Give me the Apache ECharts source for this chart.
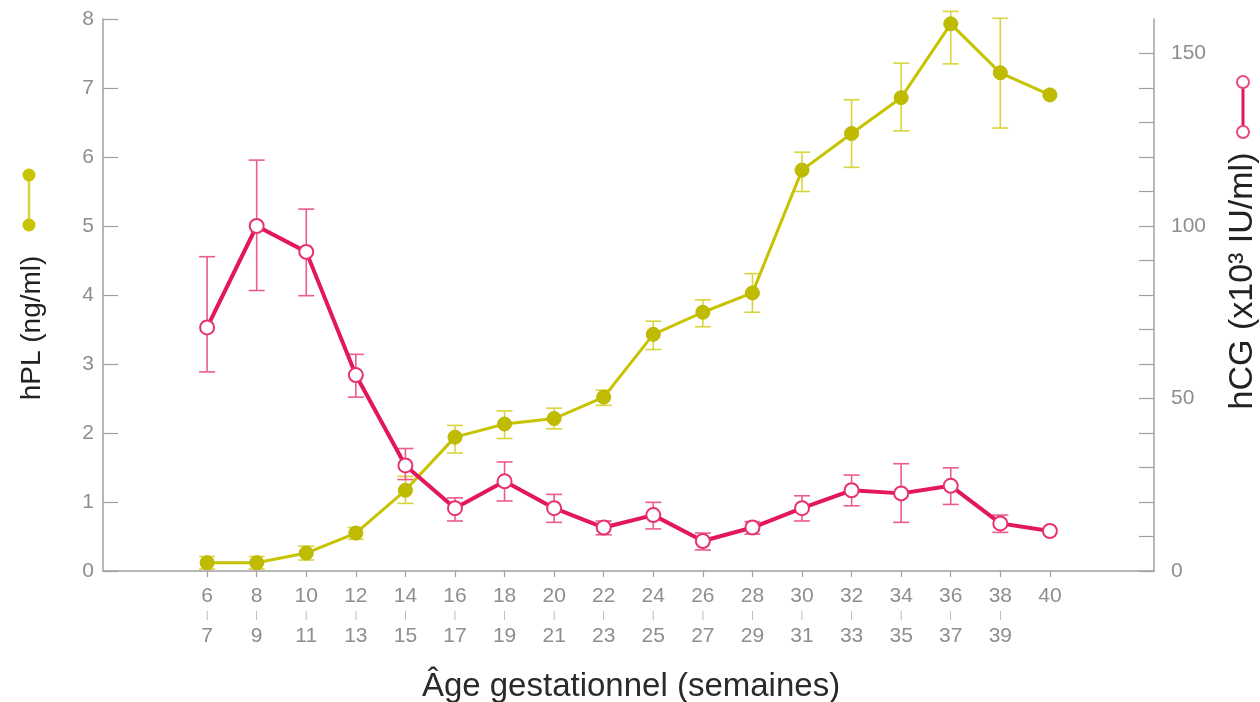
<!DOCTYPE html>
<html>
<head>
<meta charset="utf-8">
<script src="https://cdn.jsdelivr.net/npm/echarts@6/dist/echarts.min.js"></script>
<style>html,body{margin:0;padding:0;background:#fff;}#c{width:1260px;height:702px;}</style>
</head>
<body>
<div id="c"></div>
<script>
// ---- data ----
const weeks = [6, 8, 10, 12, 14, 16, 18, 20, 22, 24, 26, 28, 30, 32, 34, 36, 38, 40];
const weekLabelsTop = ['6','8','10','12','14','16','18','20','22','24','26','28','30','32','34','36','38','40'];
const weekLabelsBottom = ['7','9','11','13','15','17','19','21','23','25','27','29','31','33','35','37','39',''];

const hPL     = [0.12, 0.12, 0.26, 0.55, 1.17, 1.94, 2.13, 2.21, 2.52, 3.43, 3.75, 4.03, 5.81, 6.34, 6.86, 7.93, 7.22, 6.90];
const hPLLow  = [0.03, 0.03, 0.16, 0.46, 0.98, 1.71, 1.92, 2.06, 2.40, 3.21, 3.54, 3.75, 5.50, 5.85, 6.38, 7.35, 6.42, null];
const hPLHigh = [0.21, 0.21, 0.36, 0.63, 1.37, 2.11, 2.32, 2.36, 2.62, 3.62, 3.93, 4.31, 6.07, 6.83, 7.36, 8.11, 8.01, null];

const hCG     = [70.6, 100.0, 92.5, 56.8, 30.6, 18.2, 26.0, 18.2, 12.6, 16.2, 8.7, 12.6, 18.2, 23.4, 22.5, 24.7, 13.8, 11.6];
const hCGLow  = [57.7, 81.3, 79.8, 50.4, 26.5, 14.5, 20.3, 14.1, 10.5, 12.2, 6.1, 10.7, 14.5, 18.9, 14.1, 19.3, 11.2, null];
const hCGHigh = [91.1, 119.1, 104.9, 62.8, 35.5, 21.2, 31.6, 22.2, 14.5, 19.9, 11.0, 14.3, 21.8, 27.8, 31.1, 29.9, 16.2, null];

const leftTicks = [0, 1, 2, 3, 4, 5, 6, 7, 8];
const rightTicks = [0, 10, 20, 30, 40, 50, 60, 70, 80, 90, 100, 110, 120, 130, 140, 150];
const rightLabels = [0, 50, 100, 150];

// ---- styles ----
const YEL = '#c7c300', YEL_ERR = '#d8d53c';
const PINK = '#e2175c', PINK_ERR = '#ec5c8c';
const AXIS = '#a0a0a0', TICKTXT = '#8e8e8e';
const NUMFONT = "'Liberation Sans Narrow','Liberation Sans',Arial,sans-serif";
const FONT = "'Liberation Sans',Arial,sans-serif";

function pairs(xs, ys) { return xs.map((x, i) => [x, ys[i]]); }
function errData(xs, lo, hi) {
  return xs.map((x, i) => [x, lo[i], hi[i]]).filter(d => d[1] != null && d[2] != null);
}
function errRender(color, capW, lw) {
  return function (params, api) {
    const x = api.value(0), lo = api.value(1), hi = api.value(2);
    const a = api.coord([x, lo]), b = api.coord([x, hi]);
    const h = capW / 2;
    const st = { stroke: color, lineWidth: lw };
    return {
      type: 'group',
      children: [
        { type: 'line', shape: { x1: a[0], y1: a[1], x2: b[0], y2: b[1] }, style: st },
        { type: 'line', shape: { x1: a[0] - h, y1: a[1], x2: a[0] + h, y2: a[1] }, style: st },
        { type: 'line', shape: { x1: b[0] - h, y1: b[1], x2: b[0] + h, y2: b[1] }, style: st }
      ]
    };
  };
}

const chart = echarts.init(document.getElementById('c'), null, { renderer: 'canvas' });
chart.setOption({
  animation: false,
  backgroundColor: '#fff',
  grid: { left: 103, right: 106, top: 19, bottom: 131 },
  xAxis: {
    type: 'value', min: 1.8, max: 44.2,
    splitLine: { show: false },
    axisLine: { onZero: false, lineStyle: { color: AXIS, width: 1.5 } },
    axisTick: { customValues: weeks, length: 6, lineStyle: { color: AXIS, width: 1.2 } },
    axisLabel: {
      customValues: weeks, margin: 15,
      formatter: function (v) {
        const i = weeks.indexOf(v);
        if (i < 0) return '';
        const b = weekLabelsBottom[i];
        return b ? '{n|' + weekLabelsTop[i] + '}\n{d||}\n{n|' + b + '}' : '{n|' + weekLabelsTop[i] + '}';
      },
      verticalAlign: 'top',
      rich: {
        n: { fontSize: 21, color: TICKTXT, fontFamily: NUMFONT, lineHeight: 20 },
        d: { fontSize: 9, color: '#aaaaaa', fontFamily: FONT, lineHeight: 20 }
      }
    }
  },
  yAxis: [
    {
      type: 'value', min: 0, max: 8, interval: 1, position: 'left',
      splitLine: { show: false },
      axisLine: { show: true, lineStyle: { color: AXIS, width: 1.5 } },
      axisTick: { show: true, inside: true, length: 15, customValues: leftTicks, lineStyle: { color: AXIS, width: 1.2 } },
      axisLabel: { margin: 9, fontSize: 21, color: TICKTXT, fontFamily: NUMFONT }
    },
    {
      type: 'value', min: 0, max: 160, position: 'right',
      splitLine: { show: false },
      axisLine: { show: true, onZero: false, lineStyle: { color: AXIS, width: 1.5 } },
      axisTick: { show: true, inside: true, length: 15, customValues: rightTicks, lineStyle: { color: AXIS, width: 1.2 } },
      axisLabel: { customValues: rightLabels, margin: 17, fontSize: 21, color: TICKTXT, fontFamily: NUMFONT }
    }
  ],
  series: [
    {
      type: 'custom', name: 'hPL err', yAxisIndex: 0, z: 1,
      renderItem: errRender(YEL_ERR, 16, 1.6),
      encode: { x: 0, y: [1, 2] },
      data: errData(weeks, hPLLow, hPLHigh)
    },
    {
      type: 'custom', name: 'hCG err', yAxisIndex: 1, z: 1,
      renderItem: errRender(PINK_ERR, 16, 1.6),
      encode: { x: 0, y: [1, 2] },
      data: errData(weeks, hCGLow, hCGHigh)
    },
    {
      type: 'line', name: 'hPL', yAxisIndex: 0, z: 3,
      data: pairs(weeks, hPL),
      symbol: 'circle', symbolSize: 14,
      lineStyle: { color: YEL, width: 3 },
      itemStyle: { color: '#bfbb00', borderColor: '#bab600', borderWidth: 1 }
    },
    {
      type: 'line', name: 'hCG', yAxisIndex: 1, z: 4,
      data: pairs(weeks, hCG),
      symbol: 'circle', symbolSize: 14,
      lineStyle: { color: PINK, width: 4 },
      itemStyle: { color: '#ffffff', borderColor: '#e8326f', borderWidth: 2 }
    }
  ],
  graphic: [
    // left legend glyph (hPL)
    { type: 'line', shape: { x1: 29, y1: 175, x2: 29, y2: 225 }, style: { stroke: YEL_ERR, lineWidth: 2.5 } },
    { type: 'circle', shape: { cx: 29, cy: 175, r: 6.5 }, style: { fill: '#c8c400' } },
    { type: 'circle', shape: { cx: 29, cy: 225, r: 6.5 }, style: { fill: '#c8c400' } },
    // right legend glyph (hCG)
    { type: 'line', shape: { x1: 1243, y1: 82, x2: 1243, y2: 132 }, style: { stroke: PINK, lineWidth: 3 } },
    { type: 'circle', shape: { cx: 1243, cy: 82, r: 6 }, style: { fill: '#fff', stroke: '#ea4a80', lineWidth: 2 } },
    { type: 'circle', shape: { cx: 1243, cy: 132, r: 6 }, style: { fill: '#fff', stroke: '#ea4a80', lineWidth: 2 } },
    // axis names
    { type: 'text', x: 32, y: 328, rotation: Math.PI / 2,
      style: { text: 'hPL (ng/ml)', font: "28px 'Liberation Sans', Arial, sans-serif", fill: '#222', align: 'center', verticalAlign: 'middle' } },
    { type: 'text', x: 1243, y: 281, rotation: Math.PI / 2,
      style: { text: 'hCG (x10³ IU/ml)', font: "34px 'Liberation Sans', Arial, sans-serif", fill: '#222', align: 'center', verticalAlign: 'middle' } },
    { type: 'text', x: 631, y: 687,
      style: { text: 'Âge gestationnel (semaines)', font: "33px 'Liberation Sans', Arial, sans-serif", fill: '#2a2a2a', align: 'center', verticalAlign: 'middle' } }
  ]
});
</script>
</body>
</html>
